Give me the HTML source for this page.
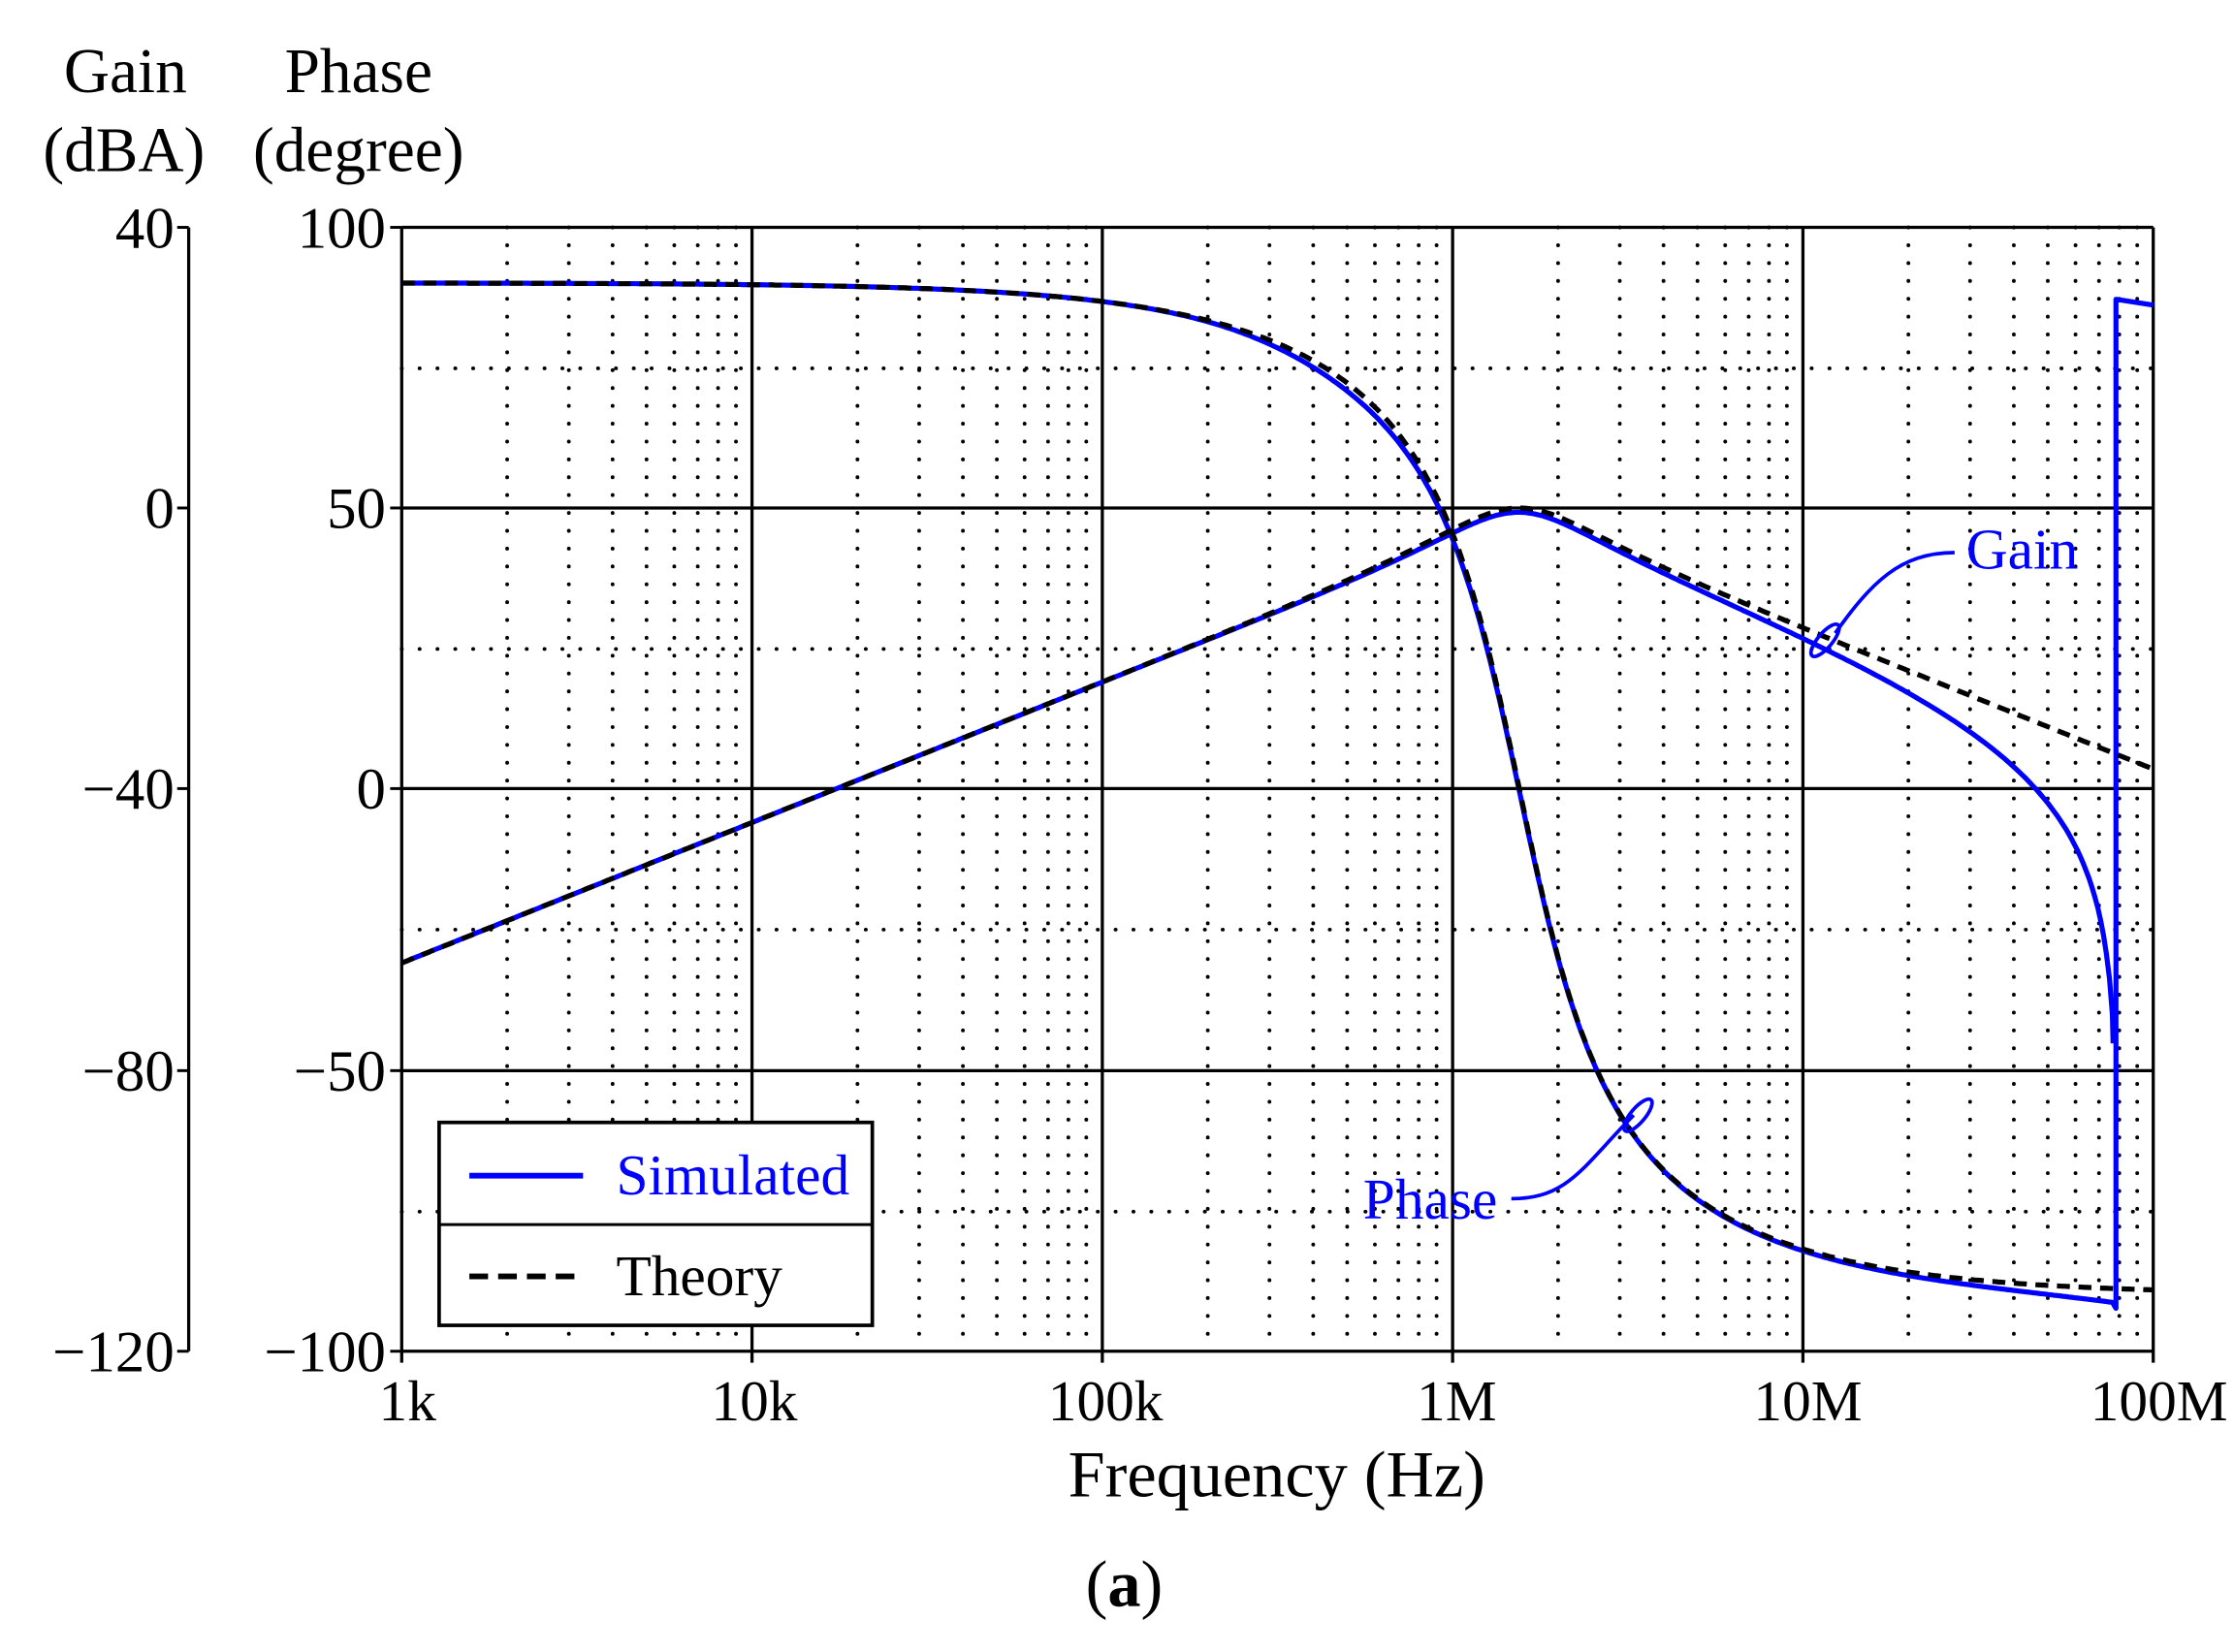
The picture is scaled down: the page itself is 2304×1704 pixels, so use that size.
<!DOCTYPE html>
<html><head><meta charset="utf-8"><style>
html,body{margin:0;padding:0;background:#fff}
svg{display:block}
text{font-family:"Liberation Serif",serif}
</style></head><body>
<svg id="s" width="2304" height="1704" viewBox="0 0 1552 1148" xmlns="http://www.w3.org/2000/svg">
<rect width="1552" height="1148" fill="#fff"/>
<g id="grid"></g>
<g id="curves"></g>
<g font-size="44" fill="#000">
<text x="87" y="64" text-anchor="middle">Gain</text>
<text x="86" y="119" text-anchor="middle">(dBA)</text>
<text x="249" y="64" text-anchor="middle">Phase</text>
<text x="249" y="119" text-anchor="middle">(degree)</text>
</g>
<g font-size="41" fill="#000" text-anchor="end">
<text x="121" y="172">40</text><text x="121" y="367">0</text><text x="121" y="562">−40</text><text x="121" y="758">−80</text><text x="121" y="953">−120</text>
<text x="268" y="172">100</text><text x="268" y="367">50</text><text x="268" y="562">0</text><text x="268" y="758">−50</text><text x="268" y="953">−100</text>
</g>
<g font-size="40" fill="#000" text-anchor="middle">
<text x="283" y="987">1k</text><text x="524" y="987">10k</text><text x="768" y="987">100k</text><text x="1012" y="987">1M</text><text x="1256" y="987">10M</text><text x="1500" y="987">100M</text>
</g>
<text x="887" y="1040" font-size="46" text-anchor="middle">Frequency (Hz)</text>
<text x="781" y="1116" font-size="46" text-anchor="middle">(<tspan font-weight="bold">a</tspan>)</text>
<g>
<rect x="305" y="780" width="301" height="141" fill="#fff" stroke="#000" stroke-width="2.5"/>
<line x1="305" y1="851" x2="606" y2="851" stroke="#000" stroke-width="2"/>
<line x1="326" y1="817" x2="405" y2="817" stroke="#0000ff" stroke-width="4"/>
<line x1="326" y1="887" x2="405" y2="887" stroke="#000" stroke-width="4" stroke-dasharray="13 7"/>
<text x="428" y="830" font-size="40" fill="#0000ff">Simulated</text>
<text x="428" y="900" font-size="40" fill="#000">Theory</text>
</g>
<g fill="none" stroke="#0000ff" stroke-width="2.5">
<path d="M1358,384 C1320,384 1300,405 1275,440"/>
<ellipse cx="1268" cy="445" rx="5" ry="14" transform="rotate(40 1268 445)"/>
<path d="M1050,833 C1090,833 1100,810 1135,775"/>
<ellipse cx="1138" cy="775" rx="5" ry="14" transform="rotate(40 1138 775)"/>
</g>
<text x="1366" y="395" font-size="40" fill="#0000ff">Gain</text>
<text x="947" y="847" font-size="40" fill="#0000ff">Phase</text>
</svg>
<script>
(function(){
var NS="http://www.w3.org/2000/svg";
var L=279,R=1496,T=158,B=939,D=(R-L)/5;
function X(f){return L+(Math.log10(f)-3)*D;}
function gY(g){return 353-g*4.88;}
function pY(p){return 548-p*3.905;}
var g=document.getElementById('grid'),c=document.getElementById('curves');
function line(p,x1,y1,x2,y2,st,w,da){var e=document.createElementNS(NS,'line');e.setAttribute('x1',x1);e.setAttribute('y1',y1);e.setAttribute('x2',x2);e.setAttribute('y2',y2);e.setAttribute('stroke',st);e.setAttribute('stroke-width',w);if(da){e.setAttribute('stroke-dasharray',da);e.setAttribute('stroke-linecap','round');}p.appendChild(e);}
for(var d=3;d<8;d++)for(var m=2;m<10;m++){var x=X(m*Math.pow(10,d));line(g,x,T,x,B,'#000',2.6,'0.1 12.3');}
[256,451,646,842].forEach(function(y){line(g,L,y,R,y,'#000',2.6,'0.1 12.3');});
for(var i=0;i<=5;i++){var x=L+i*D;line(g,x,T,x,B+8,'#000',2.2);}
[158,353,548,744,939].forEach(function(y){line(g,L,y,R,y,'#000',2.2);line(g,L-8,y,L,y,'#000',2);line(g,123,y,131,y,'#000',2);});
line(g,131,T,131,B,'#000',2.2);
var f0=1.55e6,Q=1.12;
function th(f){var x=f/f0;var re=1-x*x,im=x/Q;var mag=(x/Q)/Math.sqrt(re*re+im*im);var ph=90-Math.atan2(im,re)*180/Math.PI;return [20*Math.log10(mag),ph];}
function path(pts,st,w,da){var e=document.createElementNS(NS,'path');e.setAttribute('d','M'+pts.map(function(p){return p[0].toFixed(1)+','+p[1].toFixed(1);}).join('L'));e.setAttribute('fill','none');e.setAttribute('stroke',st);e.setAttribute('stroke-width',w);e.setAttribute('stroke-linejoin','round');if(da)e.setAttribute('stroke-dasharray',da);c.appendChild(e);}
var tg=[],tp=[],sg=[],sp=[];
var fz=7.9e7,fend=7.75e7;
for(var k=0;k<=600;k++){var f=Math.pow(10,3+5*k/600);var r=th(f);tg.push([X(f),gY(r[0])]);tp.push([X(f),pY(r[1])]);
 if(f<=fend){var ex=Math.pow(Math.max(1-f/fz,0.02),1.25);var gs=r[0]-0.4*Math.exp(-Math.pow(Math.log10(f/f0)/0.6,2))+20*Math.log10(ex);sg.push([X(f),Math.min(gY(gs),720)]);
 var ps=r[1]-1.5*Math.exp(-Math.pow(Math.log10(f/6e5)/0.35,2))-2.5*(f/fend);sp.push([X(f),pY(ps)]);}}
sg.push([X(fend)-1,725]);
sp.push([X(fend)+1,pY(-92.5)]);sp.push([X(fend)+1,208]);sp.push([R,212]);
path(sg,'#0000ff',3.5);path(sp,'#0000ff',3.5);
path(tg,'#000',3.5,'9 6');path(tp,'#000',3.5,'9 6');
})();
</script>
</body></html>
